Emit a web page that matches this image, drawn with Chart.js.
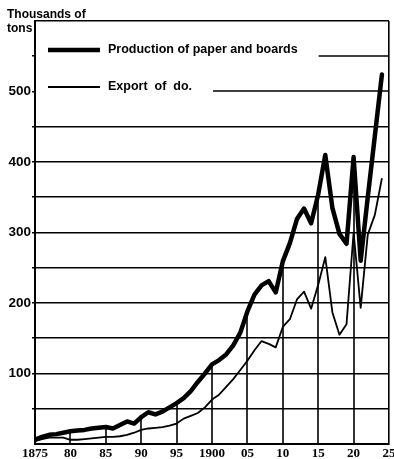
<!DOCTYPE html>
<html>
<head>
<meta charset="utf-8">
<script src="https://cdn.jsdelivr.net/npm/chart.js@4/dist/chart.umd.min.js"></script>
<style>
  html, body { margin: 0; padding: 0; background: #fff; }
  #wrap { width: 394px; height: 459px; }
</style>
</head>
<body>
<div id="wrap"><canvas id="c" width="394" height="459"></canvas></div>
<script>
// Years of record
const years = [
  1875, 1876, 1877, 1878, 1879, 1880, 1881, 1882, 1883, 1884,
  1885, 1886, 1887, 1888, 1889, 1890, 1891, 1892, 1893, 1894,
  1895, 1896, 1897, 1898, 1899, 1900, 1901, 1902, 1903, 1904,
  1905, 1906, 1907, 1908, 1909, 1910, 1911, 1912, 1913, 1914,
  1915, 1916, 1917, 1918, 1919, 1920, 1921, 1922, 1923, 1924
];

// Production of paper and boards, thousands of tons
const production = [
    6,  10,  13,  14,  16,  18,  19,  20,  22,  23,
   24,  22,  27,  32,  29,  38,  45,  42,  46,  52,
   58,  65,  75,  88, 100, 113, 119, 127, 140, 158,
  188, 212, 225, 231, 215, 259, 285, 319, 334, 313,
  354, 410, 335, 298, 284, 407, 260, 350, 437, 524
];

// Export of the same, thousands of tons
const exportDo = [
    4,   7,   9,   9,   9,   6,   6,   7,   8,   9,
   10,  10,  11,  13,  16,  20,  22,  23,  24,  26,
   29,  36,  40,  44,  52,  63,  70,  81,  92, 105,
  118, 133, 146, 142, 137, 166, 177, 205, 216, 192,
  226, 265, 187, 155, 170, 300, 193, 297, 325, 377
];

// Axis ticks and labels
const tickYears  = [1875, 1880, 1885, 1890, 1895, 1900, 1905, 1910, 1915, 1920, 1925];
const tickLabels = ['1875', '80', '85', '90', '95', '1900', '05', '10', '15', '20', '25'];
const yLabelValues = [100, 200, 300, 400, 500];

// Text
const seriesNames = ['Production of paper and boards', 'Export  of  do.'];
const axisTitle = ['Thousands of', 'tons'];

const SANS = '"Liberation Sans", Arial, sans-serif';
const SERIF = '"Liberation Serif", "Times New Roman", serif';

// Frame details: verticals rising to the production curve, legend, axis caption
const decor = {
  id: 'paperDecor',
  beforeDatasetsDraw(chart) {
    const { ctx, chartArea, scales: { x, y } } = chart;
    ctx.save();
    ctx.strokeStyle = '#000';
    ctx.lineWidth = 1.6;
    const base = y.getPixelForValue(0);
    tickYears.forEach(yr => {
      const i = years.indexOf(yr);
      if (yr === 1875 || i < 0) return;
      const px = Math.round(x.getPixelForValue(yr));
      ctx.beginPath();
      ctx.moveTo(px, base);
      ctx.lineTo(px, y.getPixelForValue(production[i]));
      ctx.stroke();
    });
    ctx.restore();
  },
  afterDraw(chart) {
    const { ctx, chartArea, scales: { x, y } } = chart;
    ctx.save();
    ctx.fillStyle = '#000';
    ctx.strokeStyle = '#000';

    // axis caption
    ctx.font = 'bold 12px ' + SANS;
    ctx.textBaseline = 'alphabetic';
    ctx.textAlign = 'left';
    ctx.fillText(axisTitle[0], 7, 18);
    ctx.fillText(axisTitle[1], 7, 31.5);

    // legend rows, each followed by the remainder of its gridline
    const rows = [
      { text: seriesNames[0], width: 4.5, yRow: 50, grid: 550 },
      { text: seriesNames[1], width: 1.8, yRow: 87, grid: 500 }
    ];
    ctx.font = 'bold 12.5px ' + SANS;
    ctx.textBaseline = 'middle';
    rows.forEach(r => {
      ctx.lineWidth = r.width;
      ctx.lineCap = 'butt';
      ctx.beginPath();
      ctx.moveTo(48, r.yRow);
      ctx.lineTo(100, r.yRow);
      ctx.stroke();
      ctx.fillText(r.text, 108, r.yRow);
      const tEnd = 108 + ctx.measureText(r.text).width;
      const gy = Math.round(y.getPixelForValue(r.grid));
      ctx.lineWidth = 1.6;
      ctx.beginPath();
      ctx.moveTo(tEnd + 21, gy);
      ctx.lineTo(chartArea.right, gy);
      ctx.stroke();
    });
    ctx.restore();
  }
};

new Chart(document.getElementById('c'), {
  type: 'line',
  data: {
    datasets: [
      {
        label: seriesNames[0],
        data: years.map((yr, i) => ({ x: yr, y: production[i] })),
        borderColor: '#000',
        borderWidth: 4.5,
        pointRadius: 0,
        tension: 0,
        borderJoinStyle: 'round',
        borderCapStyle: 'round',
        fill: false
      },
      {
        label: seriesNames[1].replace(/\s+/g, ' '),
        data: years.map((yr, i) => ({ x: yr, y: exportDo[i] })),
        borderColor: '#000',
        borderWidth: 1.8,
        pointRadius: 0,
        tension: 0,
        borderJoinStyle: 'round',
        fill: false
      }
    ]
  },
  options: {
    responsive: false,
    animation: false,
    devicePixelRatio: 1,
    layout: { padding: { top: 21, right: 5, left: 0, bottom: 0 } },
    plugins: { legend: { display: false }, tooltip: { enabled: false } },
    scales: {
      x: {
        type: 'linear',
        min: 1875,
        max: 1925,
        afterBuildTicks: s => { s.ticks = tickYears.map(v => ({ value: v })); },
        afterFit: s => { s.height = 15; s.paddingLeft = 0; s.paddingRight = 0; },
        ticks: {
          autoSkip: false,
          maxRotation: 0,
          padding: 2,
          color: '#000',
          font: { family: SERIF, weight: 'bold', size: 13 },
          callback: v => { const k = tickYears.indexOf(v); return k >= 0 ? tickLabels[k] : ''; }
        },
        grid: {
          drawTicks: false,
          lineWidth: 1.6,
          color: c => (c.tick && c.tick.value === 1925) ? '#000' : 'rgba(0,0,0,0)'
        },
        border: { color: '#000', width: 2 }
      },
      y: {
        min: 0,
        max: 600,
        afterFit: s => { s.width = 35; s.paddingTop = 0; s.paddingBottom = 0; },
        ticks: {
          stepSize: 50,
          autoSkip: false,
          padding: 1,
          color: '#000',
          font: { family: SANS, weight: 'bold', size: 13.5 },
          callback: v => yLabelValues.includes(v) ? String(v) : ''
        },
        grid: {
          lineWidth: 1.6,
          tickLength: 3,
          color: c => {
            const v = c.tick ? c.tick.value : null;
            return (v === 0 || v === 500 || v === 550) ? 'rgba(0,0,0,0)' : '#000';
          },
          tickColor: c => {
            const v = c.tick ? c.tick.value : null;
            return (v > 0 && v < 600) ? '#000' : 'rgba(0,0,0,0)';
          }
        },
        border: { color: '#000', width: 2 }
      }
    }
  },
  plugins: [decor]
});
</script>
</body>
</html>
